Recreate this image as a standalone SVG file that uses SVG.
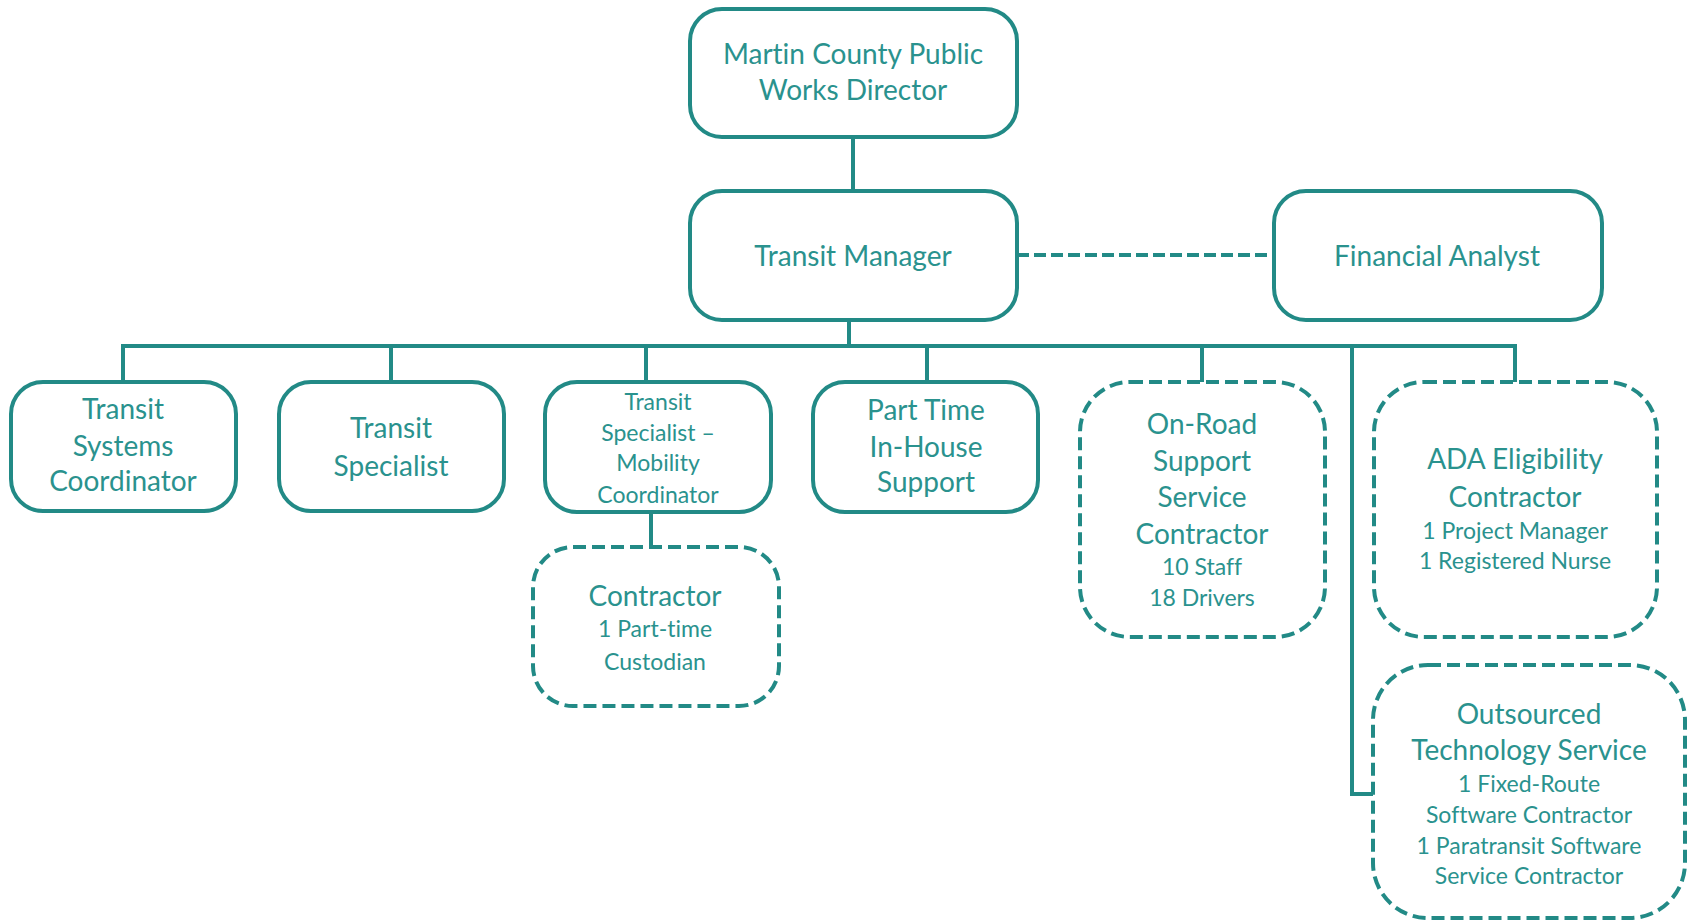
<svg xmlns="http://www.w3.org/2000/svg" width="1688" height="923" viewBox="0 0 1688 923">
<style>
.box{fill:#fff;stroke:#228a86;stroke-width:4}
.dash{fill:#fff;stroke:#228a86;stroke-width:4;stroke-dasharray:13 6}
.ln{fill:none;stroke:#228a86;stroke-width:4}
.dl{fill:none;stroke:#228a86;stroke-width:4;stroke-dasharray:12 5}
text{font-family:Lato,"Open Sans","Liberation Sans",sans-serif;fill:#2a928e;text-anchor:middle;dominant-baseline:central;font-variant-ligatures:none}
.b{font-size:28px}
.s{font-size:23px}
.m{font-size:23px}
</style>
<rect width="1688" height="923" fill="#fff"/>
<g id="connectors">
<path class="ln" d="M853,137V191"/>
<path class="dl" d="M1017,255H1274"/>
<path class="ln" d="M849,320V346"/>
<path class="ln" d="M123,382V346H1515V382"/>
<path class="ln" d="M391,346V382M646,346V382M927,346V382M1202,346V382"/>
<path class="ln" d="M1352,346V794H1373"/>
<path class="ln" d="M651,512V547"/>
</g>
<g id="director"><rect class="box" x="690" y="9" width="327" height="128" rx="32"/><text class="b" x="853" y="53">Martin County Public</text><text class="b" x="853" y="89">Works Director</text></g>
<g id="manager"><rect class="box" x="690" y="191" width="327" height="129" rx="32"/><text class="b" x="853" y="255">Transit Manager</text></g>
<g id="financial"><rect class="box" x="1274" y="191" width="328" height="129" rx="32"/><text class="b" x="1437" y="255">Financial Analyst</text></g>
<g id="tsc"><rect class="box" x="11" y="382" width="225" height="129" rx="32"/><text class="b" x="123" y="408">Transit</text><text class="b" x="123" y="445">Systems</text><text class="b" x="123" y="480">Coordinator</text></g>
<g id="ts"><rect class="box" x="279" y="382" width="225" height="129" rx="32"/><text class="b" x="391" y="427">Transit</text><text class="b" x="391" y="465">Specialist</text></g>
<g id="tsmc"><rect class="box" x="545" y="382" width="226" height="130" rx="32"/><text class="m" x="658" y="401">Transit</text><text class="m" x="658" y="432">Specialist –</text><text class="m" x="658" y="462">Mobility</text><text class="m" x="658" y="494">Coordinator</text></g>
<g id="parttime"><rect class="box" x="813" y="382" width="225" height="130" rx="32"/><text class="b" x="926" y="409">Part Time</text><text class="b" x="926" y="446">In-House</text><text class="b" x="926" y="481">Support</text></g>
<g id="onroad"><rect class="dash" x="1080" y="382" width="245" height="255" rx="50"/><text class="b" x="1202" y="423">On-Road</text><text class="b" x="1202" y="460">Support</text><text class="b" x="1202" y="496">Service</text><text class="b" x="1202" y="533">Contractor</text><text class="s" x="1202" y="566">10 Staff</text><text class="s" x="1202" y="597">18 Drivers</text></g>
<g id="ada"><rect class="dash" x="1374" y="382" width="283" height="255" rx="50"/><text class="b" x="1515" y="458">ADA Eligibility</text><text class="b" x="1515" y="496">Contractor</text><text class="s" x="1515" y="530">1 Project Manager</text><text class="s" x="1515" y="560">1 Registered Nurse</text></g>
<g id="contractor"><rect class="dash" x="533" y="547" width="246" height="159" rx="40"/><text class="b" x="655" y="595">Contractor</text><text class="s" x="655" y="628">1 Part-time</text><text class="s" x="655" y="661">Custodian</text></g>
<g id="outsourced"><rect class="dash" x="1373" y="665" width="312" height="253" rx="55"/><text class="b" x="1529" y="713">Outsourced</text><text class="b" x="1529" y="749">Technology Service</text><text class="s" x="1529" y="783">1 Fixed-Route</text><text class="s" x="1529" y="814">Software Contractor</text><text class="s" x="1529" y="845">1 Paratransit Software</text><text class="s" x="1529" y="875">Service Contractor</text></g>
</svg>
